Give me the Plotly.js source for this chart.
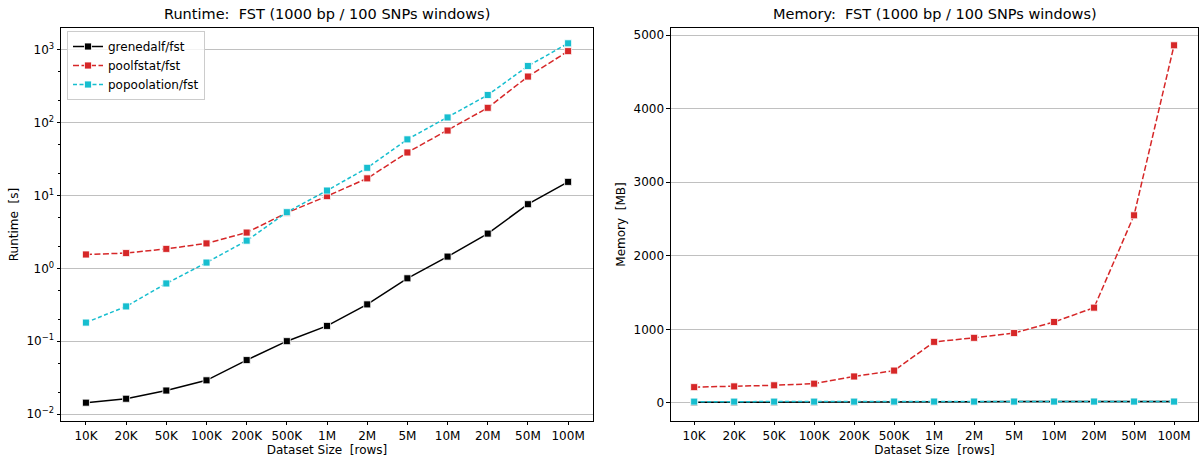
<!DOCTYPE html>
<html>
<head>
<meta charset="utf-8">
<script src="https://cdn.plot.ly/plotly-3.0.1.min.js"></script>
<style>html,body{margin:0;padding:0;background:#fff;}#chart{width:1199px;height:460px;}</style>
</head>
<body>
<div id="chart"></div>
<script>
const sizes = ["10K","20K","50K","100K","200K","500K","1M","2M","5M","10M","20M","50M","100M"];

const runtimeGrenedalf = [0.0143, 0.0162, 0.021, 0.029, 0.055, 0.100, 0.162, 0.32, 0.73, 1.45, 3.0, 7.6, 15.4];
const runtimePoolfstat = [1.55, 1.62, 1.85, 2.2, 3.1, 5.8, 9.8, 17.2, 39, 78, 160, 430, 960];
const runtimePopoolation = [0.18, 0.30, 0.62, 1.2, 2.4, 5.9, 11.7, 24, 59, 118, 240, 600, 1230];

const memGrenedalf = [8, 8, 9, 10, 12, 14, 17, 18, 19, 20, 20, 20, 20];
const memPoolfstat = [215, 225, 240, 262, 360, 440, 830, 885, 950, 1100, 1295, 2550, 4860];
const memPopoolation = [18, 18, 18, 18, 18, 19, 19, 19, 19, 19, 19, 19, 19];

const logTickVals = [0.01, 0.1, 1, 10, 100, 1000];
const logTickText = ["10<sup>\u22122</sup>","10<sup>\u22121</sup>","10<sup>0</sup>","10<sup>1</sup>","10<sup>2</sup>","10<sup>3</sup>"];
const memTickVals = [0, 1000, 2000, 3000, 4000, 5000];

const names = ["grenedalf/fst","poolfstat/fst","popoolation/fst"];
const colors = ["#000000","#d62728","#17becf"];
const dashes = ["solid","6px,2.5px","4px,2.5px"];

function tr(y, i, xa, ya, show) {
  return {
    x: sizes, y: y, xaxis: xa, yaxis: ya, type: "scatter", mode: "lines+markers",
    name: names[i], showlegend: show, legendgroup: names[i],
    line: {color: colors[i], width: 1.5, dash: dashes[i]},
    marker: {symbol: "square", size: 7, color: colors[i], line: {color: "#ffffff", width: 0.8}}
  };
}

const data = [
  tr(runtimeGrenedalf, 0, "x", "y", true),
  tr(runtimePoolfstat, 1, "x", "y", true),
  tr(runtimePopoolation, 2, "x", "y", true),
  tr(memGrenedalf, 0, "x2", "y2", false),
  tr(memPoolfstat, 1, "x2", "y2", false),
  tr(memPopoolation, 2, "x2", "y2", false)
];

const F = "DejaVu Sans";
const font = {family: F, size: 12, color: "#000"};
const xbase = {
  type: "category", range: [-0.62, 12.62], showgrid: false, zeroline: false,
  showline: true, mirror: true, linecolor: "#000", linewidth: 1,
  ticks: "outside", ticklen: 3.5, tickcolor: "#000", tickfont: {family: F, size: 12, color: "#000"},
  automargin: false,
  title: {text: "Dataset Size  [rows]", font: {family: F, size: 12, color: "#000"}, standoff: 3}
};

const layout = {
  width: 1199, height: 460,
  margin: {l: 0, r: 0, t: 0, b: 0},
  paper_bgcolor: "#fff", plot_bgcolor: "#fff",
  font: font,
  showlegend: true,
  legend: {x: 67/1199, y: 1 - 31/460, xref: "paper", yref: "paper", xanchor: "left", yanchor: "top",
    bgcolor: "rgba(255,255,255,0.8)", bordercolor: "#cccccc", borderwidth: 1,
    font: {family: F, size: 12, color: "#000"}, tracegroupgap: 0, itemwidth: 30},
  xaxis: Object.assign({}, xbase, {domain: [0.0509, 0.4946], anchor: "y"}),
  yaxis: {
    type: "log", domain: [0.0848, 0.9391], anchor: "x", range: [-2.096, 3.30],
    tickvals: logTickVals, ticktext: logTickText,
    showgrid: true, gridcolor: "#b0b0b0", gridwidth: 0.8, zeroline: false,
    showline: true, mirror: true, linecolor: "#000", linewidth: 1,
    ticks: "outside", ticklen: 3.5, tickcolor: "#000", tickfont: {family: F, size: 12, color: "#000"},
    minor: {ticks: "outside", ticklen: 2, tickcolor: "#000", showgrid: false},
    automargin: false,
    title: {text: "Runtime  [s]", font: {family: F, size: 12, color: "#000"}, standoff: 5}
  },
  xaxis2: Object.assign({}, xbase, {domain: [0.5596, 0.9992], anchor: "y2", range: [-0.58, 12.6]}),
  yaxis2: {
    domain: [0.0848, 0.9391], anchor: "x2", range: [-245, 5095],
    tickvals: memTickVals,
    showgrid: true, gridcolor: "#b0b0b0", gridwidth: 0.8, zeroline: false,
    showline: true, mirror: true, linecolor: "#000", linewidth: 1,
    ticks: "outside", ticklen: 3.5, tickcolor: "#000", tickfont: {family: F, size: 12, color: "#000"},
    automargin: false,
    title: {text: "Memory  [MB]", font: {family: F, size: 12, color: "#000"}, standoff: 5}
  },
  annotations: [
    {text: "Runtime:  FST (1000 bp / 100 SNPs windows)", x: (0.0509 + 0.4946) / 2, y: 1 - 14/460, xref: "paper", yref: "paper",
      xanchor: "center", yanchor: "middle", showarrow: false, font: {family: F, size: 14.5, color: "#000"}},
    {text: "Memory:  FST (1000 bp / 100 SNPs windows)", x: (0.5596 + 0.9992) / 2, y: 1 - 14/460, xref: "paper", yref: "paper",
      xanchor: "center", yanchor: "middle", showarrow: false, font: {family: F, size: 14.5, color: "#000"}}
  ]
};

Plotly.newPlot("chart", data, layout, {staticPlot: true, displayModeBar: false});
</script>
</body>
</html>
